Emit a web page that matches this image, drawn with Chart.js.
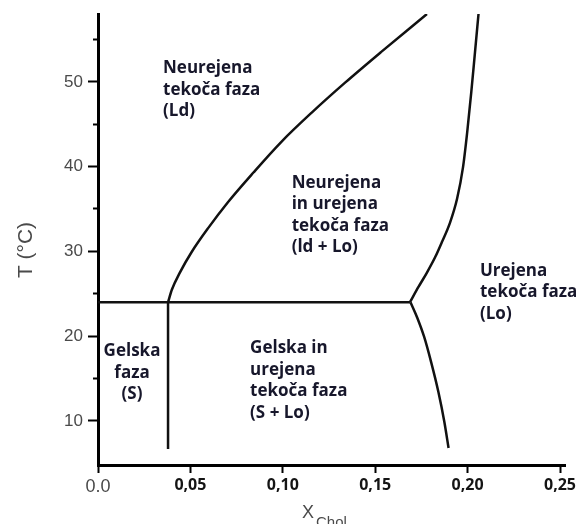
<!DOCTYPE html>
<html>
<head>
<meta charset="utf-8">
<script src="https://cdn.jsdelivr.net/npm/chart.js@4"></script>
<style>
  html, body { margin: 0; padding: 0; background: #fff; }
</style>
</head>
<body>
<canvas id="chart" width="576" height="524"></canvas>
<script>
// axis ticks
const xTicks = [0, 0.05, 0.1, 0.15, 0.2, 0.25];
const xTickLabels = ["0.0", "0,05", "0,10", "0,15", "0,20", "0,25"];
const yTicks = [10, 15, 20, 25, 30, 35, 40, 45, 50, 55];
const yTickLabels = ["10", "", "20", "", "30", "", "40", "", "50", ""];

// phase boundaries (x = X_Chol, y = T in °C)
const tieLine = [{ x: 0, y: 24 }, { x: 0.1688, y: 24 }];
const gelBoundary = [{ x: 0.0379, y: 24 }, { x: 0.0379, y: 6.7 }];
const ldBoundary = [
  { x: 0.0379, y: 24.0 }, { x: 0.0400, y: 25.5 }, { x: 0.0443, y: 27.5 },
  { x: 0.0506, y: 29.9 }, { x: 0.0598, y: 32.8 }, { x: 0.0703, y: 35.8 },
  { x: 0.0841, y: 39.3 }, { x: 0.0991, y: 42.9 }, { x: 0.1158, y: 46.4 },
  { x: 0.1337, y: 49.9 }, { x: 0.1531, y: 53.5 }, { x: 0.1780, y: 58.0 },
];
const loUpper = [
  { x: 0.1688, y: 24.0 }, { x: 0.1734, y: 25.8 }, { x: 0.1780, y: 27.5 },
  { x: 0.1824, y: 29.3 }, { x: 0.1861, y: 31.1 }, { x: 0.1905, y: 33.4 },
  { x: 0.1943, y: 36.2 }, { x: 0.1975, y: 39.9 }, { x: 0.1998, y: 44.1 },
  { x: 0.2020, y: 48.8 }, { x: 0.2040, y: 53.5 }, { x: 0.2059, y: 58.0 },
];
const loLower = [
  { x: 0.1691, y: 24.0 }, { x: 0.1727, y: 22.2 }, { x: 0.1765, y: 19.9 },
  { x: 0.1803, y: 16.9 }, { x: 0.1842, y: 13.4 }, { x: 0.1874, y: 9.9 },
  { x: 0.1897, y: 6.8 },
];

// region labels, anchored in data units
const regionLabels = [
  { lines: ["Neurejena", "tekoča faza", "(Ld)"], x: 0.0352, y: 51.0, align: "left" },
  { lines: ["Neurejena", "in urejena", "tekoča faza", "(ld + Lo)"], x: 0.1048, y: 37.5, align: "left" },
  { lines: ["Urejena", "tekoča faza", "(Lo)"], x: 0.2067, y: 27.1, align: "left" },
  { lines: ["Gelska in", "urejena", "tekoča faza", "(S + Lo)"], x: 0.0823, y: 18.0, align: "left" },
  { lines: ["Gelska", "faza", "(S)"], x: 0.0184, y: 17.6, align: "center" },
];

const TEXT = "#17172b";
const GREY = "#4a4a4a";

const labelsPlugin = {
  id: "labelsPlugin",
  afterDraw(chart) {
    const { ctx, scales } = chart;
    ctx.save();
    ctx.fillStyle = TEXT;
    ctx.font = "bold 17px 'Open Sans'";
    ctx.textBaseline = "alphabetic";
    regionLabels.forEach((lab) => {
      ctx.textAlign = lab.align;
      const px = scales.x.getPixelForValue(lab.x);
      const py = scales.y.getPixelForValue(lab.y);
      lab.lines.forEach((t, i) => ctx.fillText(t, px, py + i * 21.5));
    });

    // x title with subscript
    ctx.fillStyle = GREY;
    ctx.textAlign = "left";
    ctx.font = "18px 'Liberation Sans'";
    ctx.fillText("X", 302, 518);
    ctx.font = "15px 'Liberation Sans'";
    ctx.fillText("Chol", 316, 527);

    // y title
    ctx.translate(32, 250);
    ctx.rotate(-Math.PI / 2);
    ctx.textAlign = "center";
    ctx.font = "21px 'Liberation Sans'";
    ctx.fillText("T (°C)", 0, 0);
    ctx.restore();
  },
};

const line = (data, smooth) => ({
  data: data,
  showLine: true,
  borderColor: "#111",
  borderWidth: 2.5,
  pointRadius: 0,
  cubicInterpolationMode: smooth ? "monotone" : "default",
  tension: 0,
  fill: false,
});

new Chart(document.getElementById("chart").getContext("2d"), {
  type: "scatter",
  data: {
    datasets: [
      line(tieLine, false),
      line(gelBoundary, false),
      line(ldBoundary, true),
      line(loUpper, true),
      line(loLower, true),
    ],
  },
  options: {
    responsive: false,
    animation: false,
    layout: { padding: { top: 14, right: 11, left: 0, bottom: 0 } },
    plugins: {
      legend: { display: false },
      tooltip: { enabled: false },
    },
    scales: {
      x: {
        type: "linear",
        min: 0,
        max: 0.2527,
        afterBuildTicks: (s) => { s.ticks = xTicks.map((v) => ({ value: v })); },
        afterFit: (s) => { s.height = 59; s.paddingLeft = 0; s.paddingRight = 0; },
        ticks: {
          autoSkip: false,
          maxRotation: 0,
          padding: 3,
          callback: (v, i) => xTickLabels[i],
          color: (c) => (c.index === 0 ? GREY : "#141414"),
          font: (c) => (c.index === 0
            ? { family: "'Liberation Sans'", size: 18 }
            : { family: "'Open Sans'", size: 16, weight: "bold" }),
        },
        grid: { drawOnChartArea: false, tickLength: 8, tickWidth: 2, tickColor: "#000" },
        border: { display: true, color: "#000", width: 3 },
      },
      y: {
        type: "linear",
        min: 4.8,
        max: 58,
        afterBuildTicks: (s) => { s.ticks = yTicks.map((v) => ({ value: v })); },
        afterFit: (s) => { s.width = 98; s.paddingTop = 0; s.paddingBottom = 0; },
        ticks: {
          autoSkip: false,
          padding: 5,
          callback: (v, i) => yTickLabels[i],
          color: GREY,
          font: { family: "'Liberation Sans'", size: 17 },
        },
        grid: {
          drawOnChartArea: false,
          tickLength: 10,
          tickWidth: 2,
          tickColor: "#000",
          tickBorderDash: [10, 100],
          // minor ticks: skip the outer half so only the part next to the axis shows
          tickBorderDashOffset: (c) => (c.index % 2 === 1 ? 105 : 0),
        },
        border: { display: true, color: "#000", width: 3 },
      },
    },
  },
  plugins: [labelsPlugin],
});
</script>
</body>
</html>
